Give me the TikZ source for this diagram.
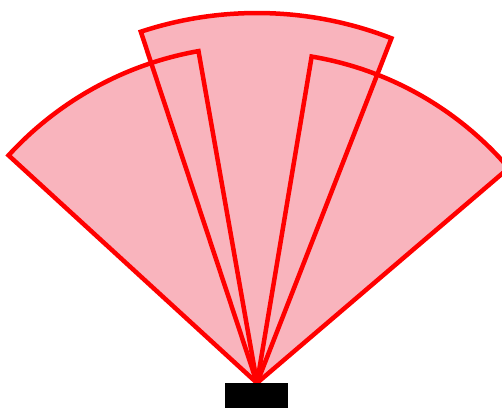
\documentclass[tikz,border=0pt]{standalone}
\definecolor{sectorfill}{RGB}{249,180,189}
\definecolor{sectorline}{RGB}{255,0,0}
\begin{document}
\begin{tikzpicture}[x=1pt,y=1pt,
  sectorshape/.style={line width=4.5pt,draw=sectorline,line join=miter},
  sectorpaint/.style={fill=sectorfill}]
\useasboundingbox (0,0) rectangle (502,408);
\clip (0,0) rectangle (502,408);
\coordinate (apex) at (257,25);
% fills
\fill[sectorpaint] (apex) -- ++(137.5:337) arc[start angle=137.5,end angle=100,radius=337] -- cycle;
\fill[sectorpaint] (apex) -- ++(108.3:370) arc[start angle=108.3,end angle=68.7,radius=370] -- cycle;
\fill[sectorpaint] (apex) -- ++(80.5:331) arc[start angle=80.5,end angle=40.5,radius=331] -- cycle;
% outlines
\draw[sectorshape] (apex) -- ++(137.5:337) arc[start angle=137.5,end angle=100,radius=337] -- cycle;
\draw[sectorshape] (apex) -- ++(108.3:370) arc[start angle=108.3,end angle=68.7,radius=370] -- cycle;
\draw[sectorshape] (apex) -- ++(80.5:331) arc[start angle=80.5,end angle=40.5,radius=331] -- cycle;
% base
\fill[black] (225,0) rectangle (288,25);
\end{tikzpicture}
\end{document}
